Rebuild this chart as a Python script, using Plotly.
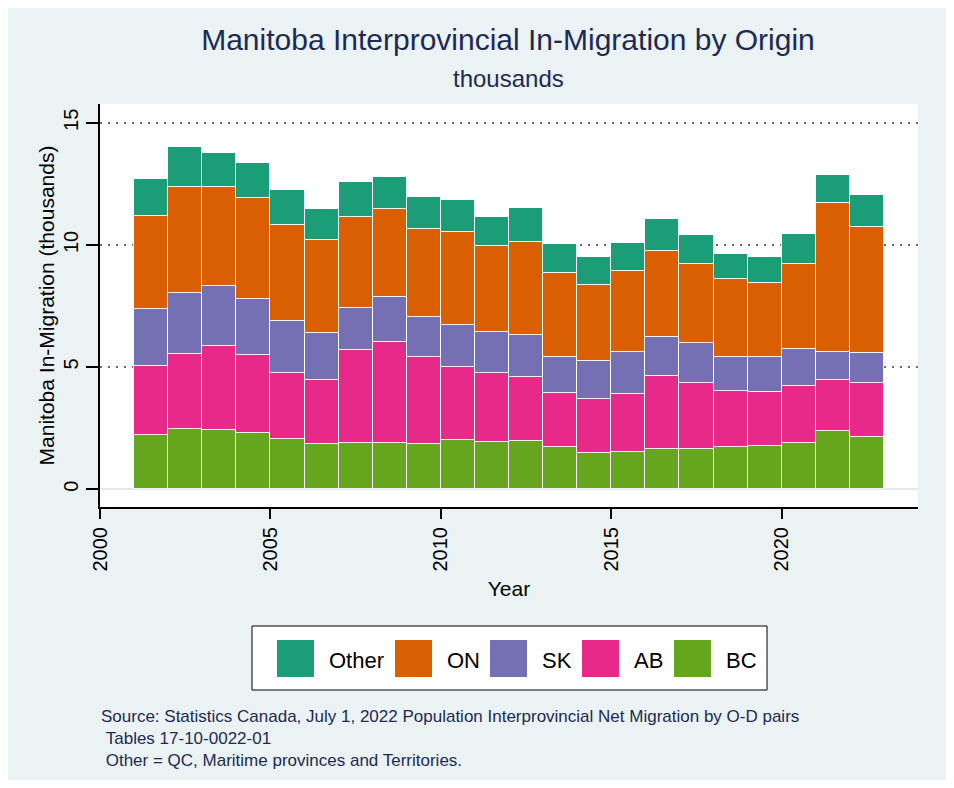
import plotly.graph_objects as go

# Manitoba in-migration by origin, thousands
years = list(range(2001, 2023))
series_names = ["BC", "AB", "SK", "ON", "Other"]
bc = [2.23, 2.47, 2.43, 2.31, 2.06, 1.83, 1.90, 1.90, 1.86, 2.01, 1.95,
      1.97, 1.71, 1.49, 1.52, 1.65, 1.63, 1.72, 1.78, 1.89, 2.39, 2.14]
ab = [2.81, 3.08, 3.43, 3.18, 2.69, 2.62, 3.78, 4.11, 3.54, 2.98, 2.79,
      2.62, 2.22, 2.20, 2.39, 2.98, 2.71, 2.31, 2.20, 2.33, 2.09, 2.22]
sk = [2.34, 2.47, 2.45, 2.28, 2.14, 1.96, 1.74, 1.86, 1.64, 1.72, 1.68,
      1.72, 1.49, 1.57, 1.69, 1.60, 1.63, 1.38, 1.42, 1.50, 1.12, 1.20]
on = [3.82, 4.37, 4.05, 4.17, 3.94, 3.78, 3.71, 3.62, 3.60, 3.80, 3.53,
      3.81, 3.43, 3.09, 3.33, 3.54, 3.26, 3.18, 3.04, 3.49, 6.11, 5.18]
other = [1.48, 1.63, 1.41, 1.42, 1.41, 1.30, 1.44, 1.28, 1.33, 1.33, 1.20,
         1.38, 1.19, 1.16, 1.14, 1.28, 1.18, 1.04, 1.05, 1.23, 1.15, 1.32]
y_ticks = [0, 5, 10, 15]
legend_order = ["Other", "ON", "SK", "AB", "BC"]

colors = {"BC": "#66A61E", "AB": "#E7298A", "SK": "#7570B3",
          "ON": "#D95F02", "Other": "#1B9E77"}
values = {"BC": bc, "AB": ab, "SK": sk, "ON": on, "Other": other}

FONT = "Liberation Sans, Arial, sans-serif"
NAVY = "#1E2A52"
BG = "#EAF2F3"

# the page body adds an 8px margin, so the figure is 16px smaller
PAGE = 8
W, H = 954 - 2 * PAGE, 788 - 2 * PAGE
L, T = 100 - PAGE, 104 - PAGE
R = W - (918 - PAGE)
B = H - (507 - PAGE)
PW, PH = W - L - R, H - T - B


# helpers take screen pixel positions (as measured on the reference)
def px_x(p):
    return (p - PAGE - L) / PW


def px_y(p):
    return (H - B - (p - PAGE)) / PH


fig = go.Figure()
for name in series_names:
    fig.add_trace(go.Bar(
        x=years, y=values[name], name=name,
        width=1, offset=0,
        marker=dict(color=colors[name], line=dict(color="rgba(255,255,255,0.9)", width=1)),
        showlegend=False,
    ))

# legend box drawn by hand so the swatches match the big Stata keys
shapes = [dict(type="rect", xref="paper", yref="paper",
               x0=px_x(252), x1=px_x(767), y0=px_y(690), y1=px_y(626),
               line=dict(color="black", width=1), fillcolor="white", layer="above")]
annotations = []
sw_left = [277, 395, 490, 582, 674]
for i, name in enumerate(legend_order):
    x0 = sw_left[i]
    shapes.append(dict(type="rect", xref="paper", yref="paper",
                       x0=px_x(x0), x1=px_x(x0 + 37), y0=px_y(677), y1=px_y(640),
                       line=dict(width=0), fillcolor=colors[name], layer="above"))
    annotations.append(dict(xref="paper", yref="paper", x=px_x(x0 + 50), y=px_y(660),
                            text=name, showarrow=False, xanchor="left", yanchor="middle",
                            font=dict(family=FONT, size=22, color="black")))

annotations.append(dict(xref="paper", yref="paper", x=px_x(508), y=px_y(78),
                        text="thousands", showarrow=False, xanchor="center", yanchor="middle",
                        font=dict(family=FONT, size=24, color=NAVY)))
annotations.append(dict(xref="paper", yref="paper", x=px_x(99), y=px_y(705),
                        text="Source: Statistics Canada, July 1, 2022 Population Interprovincial Net Migration by O-D pairs"
                             "<br>\u00a0Tables 17-10-0022-01"
                             "<br>\u00a0Other = QC, Maritime provinces and Territories.",
                        showarrow=False, xanchor="left", yanchor="top", align="left",
                        font=dict(family=FONT, size=17, color=NAVY)))

fig.update_layout(
    width=W, height=H,
    margin=dict(l=L, r=R, t=T, b=B),
    barmode="stack", bargap=0,
    paper_bgcolor=BG, plot_bgcolor="white",
    font=dict(family=FONT, color="black"),
    title=dict(text="Manitoba Interprovincial In-Migration by Origin",
               x=px_x(508), xanchor="center", y=1 - (39 - PAGE) / H, yanchor="middle",
               xref="paper", font=dict(family=FONT, size=30, color=NAVY)),
    shapes=shapes, annotations=annotations,
)

fig.update_xaxes(
    range=[2000, 2024], tick0=2000, dtick=5, tickangle=-90,
    ticks="outside", ticklen=10, tickwidth=1.5, tickcolor="black",
    showline=True, linecolor="black", linewidth=2,
    showgrid=False, zeroline=False,
    tickfont=dict(family=FONT, size=20, color="black"),
    title=dict(text="Year", font=dict(family=FONT, size=21, color="black"), standoff=11),
)
fig.update_yaxes(
    range=[-0.73, 15.77], tickvals=y_ticks, tickangle=-90,
    ticks="outside", ticklen=12, tickwidth=1.5, tickcolor="black",
    showline=True, linecolor="black", linewidth=2,
    showgrid=True, gridcolor="#6E6E6E", gridwidth=1.5, griddash="2px,6px",
    zeroline=True, zerolinecolor="#E3EBEE", zerolinewidth=2,
    tickfont=dict(family=FONT, size=20, color="black"),
    title=dict(text="Manitoba In-Migration (thousands)",
               font=dict(family=FONT, size=21, color="black"), standoff=0),
)

fig.write_html("out.html")
